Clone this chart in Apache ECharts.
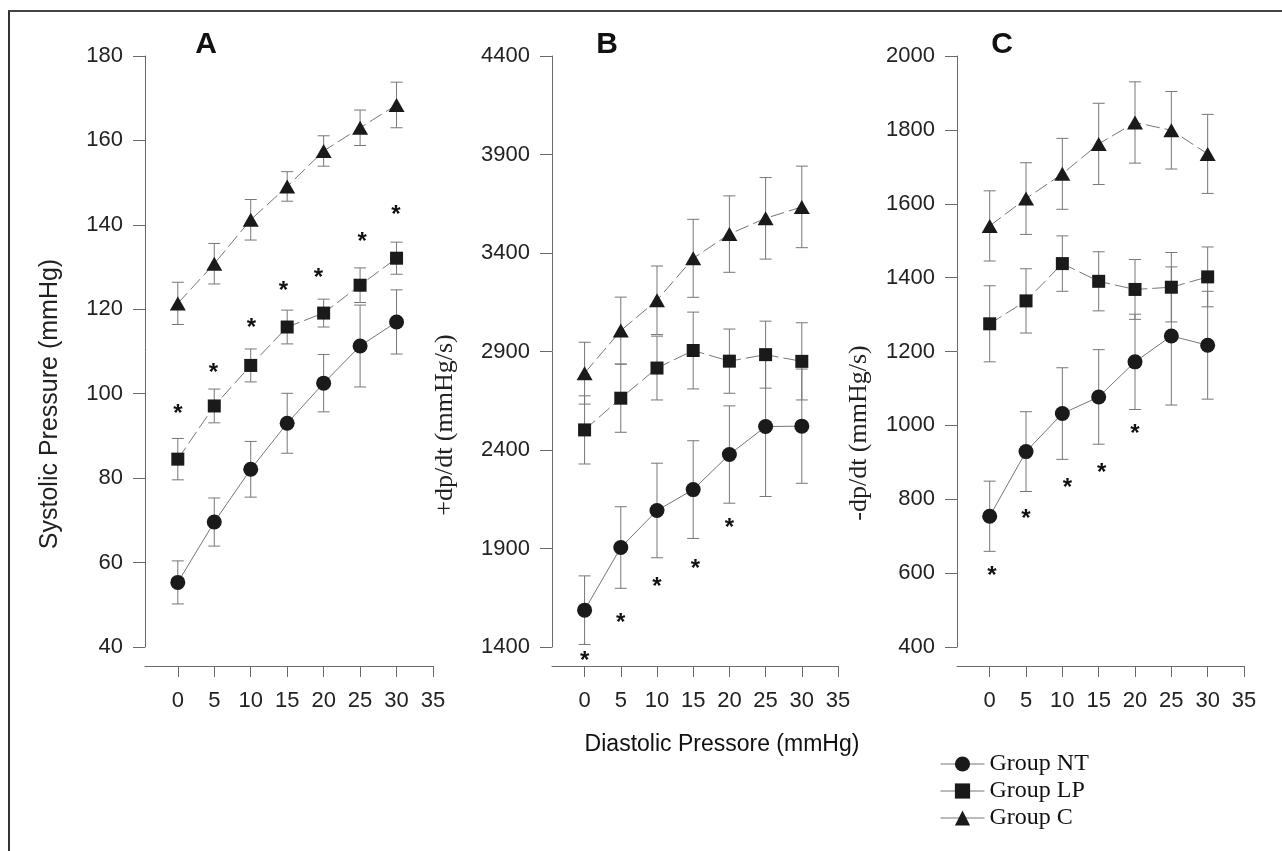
<!DOCTYPE html>
<html>
<head>
<meta charset="utf-8">
<script src="https://cdn.jsdelivr.net/npm/echarts@6/dist/echarts.min.js"></script>
<style>
  html, body { margin: 0; padding: 0; background: #fff; }
  #chart { width: 1282px; height: 851px; }
</style>
</head>
<body>
<div id="chart"></div>
<script>
var pressures = [0, 5, 10, 15, 20, 25, 30];
var xTicks = [0, 5, 10, 15, 20, 25, 30, 35];

// A: systolic pressure (mmHg)
var ntA = [55.3, 69.6, 82.1, 93.0, 102.5, 111.3, 117.0];
var ntAErr = [5.1, 5.7, 6.6, 7.1, 6.8, 9.7, 7.6];
var lpA = [84.5, 97.1, 106.7, 115.8, 119.1, 125.7, 132.1];
var lpAErr = [4.9, 4.0, 3.9, 4.0, 3.3, 4.1, 3.8];
var cA = [121.4, 130.8, 141.2, 149.1, 157.5, 163.0, 168.4];
var cAErr = [5.0, 4.8, 4.8, 3.5, 3.6, 4.2, 5.4];
var starAx = [0, 4.9, 10.1, 14.5, 19.3, 25.3, 29.9];
var starAy = [96.4, 106.0, 116.7, 125.5, 128.6, 137.1, 143.5];

// B: +dp/dt (mmHg/s)
var ntB = [1587, 1905, 2093, 2199, 2377, 2519, 2521];
var ntBErr = [174, 207, 240, 248, 247, 355, 290];
var lpB = [2502, 2663, 2816, 2905, 2851, 2884, 2850];
var lpBErr = [173, 173, 162, 195, 163, 170, 196];
var cB = [2790, 3006, 3160, 3373, 3496, 3576, 3634];
var cBErr = [157, 170, 174, 198, 194, 207, 207];
var starBx = [0, 5, 10, 15.3, 20];
var starBy = [1354, 1546, 1730, 1817, 2027];

// C: -dp/dt (mmHg/s)
var ntC = [754, 929, 1032, 1077, 1172, 1242, 1217];
var ntCErr = [95, 108, 124, 128, 129, 187, 146];
var lpC = [1275, 1337, 1438, 1390, 1368, 1374, 1402];
var lpCErr = [103, 87, 75, 80, 81, 94, 81];
var cC = [1540, 1614, 1681, 1762, 1820, 1799, 1735];
var cCErr = [95, 97, 96, 110, 110, 105, 107];
var starCx = [0.3, 5, 10.7, 15.4, 20];
var starCy = [606, 759, 844, 883, 989];

var yRanges = [[40, 180, 20], [1400, 4400, 500], [400, 2000, 200]];
var gridLeft = [145, 552, 957];
var gridWidth = [288, 286, 287];

var sans = 'Liberation Sans';
var serif = 'Liberation Serif';
var axisColor = '#6a6a6a';
var barColor = '#777';
var markColor = '#1a1a1a';

function errorBars(idx, mean, err) {
    return {
        type: 'custom',
        xAxisIndex: idx,
        yAxisIndex: idx,
        z: 1,
        silent: true,
        renderItem: function (params, api) {
            var x = api.value(0);
            var lo = api.coord([x, api.value(1)]);
            var hi = api.coord([x, api.value(2)]);
            var w = 6;
            var st = { stroke: barColor, lineWidth: 1 };
            return {
                type: 'group',
                children: [
                    { type: 'line', shape: { x1: lo[0], y1: lo[1], x2: hi[0], y2: hi[1] }, style: st },
                    { type: 'line', shape: { x1: lo[0] - w, y1: lo[1], x2: lo[0] + w, y2: lo[1] }, style: st },
                    { type: 'line', shape: { x1: hi[0] - w, y1: hi[1], x2: hi[0] + w, y2: hi[1] }, style: st }
                ]
            };
        },
        data: pressures.map(function (p, i) { return [p, mean[i] - err[i], mean[i] + err[i]]; })
    };
}

function group(idx, name, mean, symbol, size, dashed) {
    return {
        type: 'line',
        name: name,
        xAxisIndex: idx,
        yAxisIndex: idx,
        z: 3,
        symbol: symbol,
        symbolSize: size,
        showAllSymbol: true,
        itemStyle: { color: markColor },
        lineStyle: { color: barColor, width: 1, type: dashed ? [14, 5] : 'solid' },
        data: pressures.map(function (p, i) { return [p, mean[i]]; })
    };
}

function stars(idx, xs, ys) {
    return {
        type: 'custom',
        xAxisIndex: idx,
        yAxisIndex: idx,
        z: 4,
        silent: true,
        renderItem: function (params, api) {
            var c = api.coord([api.value(0), api.value(1)]);
            return {
                type: 'text',
                x: c[0],
                y: c[1] + 5,
                style: {
                    text: '*', fill: '#111', fontSize: 24, fontFamily: sans, fontWeight: 'bold',
                    align: 'center', verticalAlign: 'middle'
                }
            };
        },
        data: xs.map(function (x, i) { return [x, ys[i]]; })
    };
}

var grids = [], xAxes = [], yAxes = [];
for (var i = 0; i < 3; i++) {
    grids.push({ left: gridLeft[i], top: 56, width: gridWidth[i], height: 591 });
    xAxes.push({
        type: 'value',
        gridIndex: i,
        min: -4.5,
        max: 35,
        offset: 19,
        axisLine: { onZero: false, lineStyle: { color: axisColor, width: 1 } },
        axisTick: { customValues: xTicks, length: 11, inside: false, lineStyle: { color: axisColor } },
        axisLabel: { customValues: xTicks, margin: 24, color: '#222', fontSize: 22, fontFamily: sans },
        splitLine: { show: false }
    });
    yAxes.push({
        type: 'value',
        gridIndex: i,
        min: yRanges[i][0],
        max: yRanges[i][1],
        interval: yRanges[i][2],
        axisLine: { show: true, onZero: false, lineStyle: { color: axisColor, width: 1 } },
        axisTick: { show: true, length: 12, lineStyle: { color: axisColor } },
        axisLabel: {
            margin: 22, color: '#222', fontSize: 22, fontFamily: sans,
            formatter: function (v) { return String(v); }
        },
        splitLine: { show: false }
    });
}

var series = [
    errorBars(0, ntA, ntAErr), errorBars(0, lpA, lpAErr), errorBars(0, cA, cAErr),
    group(0, 'Group NT', ntA, 'circle', 15, false),
    group(0, 'Group LP', lpA, 'rect', 13, true),
    group(0, 'Group C', cA, 'triangle', [16, 14], true),
    stars(0, starAx, starAy),

    errorBars(1, ntB, ntBErr), errorBars(1, lpB, lpBErr), errorBars(1, cB, cBErr),
    group(1, 'Group NT', ntB, 'circle', 15, false),
    group(1, 'Group LP', lpB, 'rect', 13, true),
    group(1, 'Group C', cB, 'triangle', [16, 14], true),
    stars(1, starBx, starBy),

    errorBars(2, ntC, ntCErr), errorBars(2, lpC, lpCErr), errorBars(2, cC, cCErr),
    group(2, 'Group NT', ntC, 'circle', 15, false),
    group(2, 'Group LP', lpC, 'rect', 13, true),
    group(2, 'Group C', cC, 'triangle', [16, 14], true),
    stars(2, starCx, starCy)
];

function rotText(x, y, text, font, size) {
    return {
        type: 'text', x: x, y: y, rotation: Math.PI / 2,
        style: { text: text, fill: '#222', fontSize: size, fontFamily: font, align: 'center', verticalAlign: 'middle' }
    };
}

function flatText(x, y, text, font, size, weight) {
    return {
        type: 'text', x: x, y: y,
        style: { text: text, fill: '#111', fontSize: size, fontFamily: font, fontWeight: weight || 'normal', align: 'center', verticalAlign: 'middle' }
    };
}

var myChart = echarts.init(document.getElementById('chart'));
var option = {
    backgroundColor: '#fff',
    animation: false,
    grid: grids,
    xAxis: xAxes,
    yAxis: yAxes,
    legend: {
        data: ['Group NT', 'Group LP', 'Group C'],
        orient: 'vertical',
        left: 940,
        top: 752,
        padding: 0,
        itemWidth: 44,
        itemHeight: 19,
        itemGap: 3,
        selectedMode: false,
        lineStyle: { color: barColor, width: 1, type: 'solid' },
        textStyle: { color: '#111', fontSize: 24, fontFamily: serif, padding: [0, 0, 0, 0] }
    },
    graphic: [
        { type: 'line', shape: { x1: 8, y1: 11, x2: 1282, y2: 11 }, style: { stroke: '#444', lineWidth: 2 } },
        { type: 'line', shape: { x1: 9, y1: 11, x2: 9, y2: 851 }, style: { stroke: '#333', lineWidth: 2 } },
        flatText(206, 45, 'A', sans, 30, 'bold'),
        flatText(607, 45, 'B', sans, 30, 'bold'),
        flatText(1002, 45, 'C', sans, 30, 'bold'),
        rotText(50, 404, 'Systolic Pressure (mmHg)', sans, 25),
        rotText(445, 425, '+dp/dt (mmHg/s)', serif, 26),
        rotText(859, 433, '-dp/dt (mmHg/s)', serif, 26),
        flatText(722, 745, 'Diastolic Pressore (mmHg)', sans, 23)
    ],
    series: series
};
myChart.setOption(option);
</script>
</body>
</html>
